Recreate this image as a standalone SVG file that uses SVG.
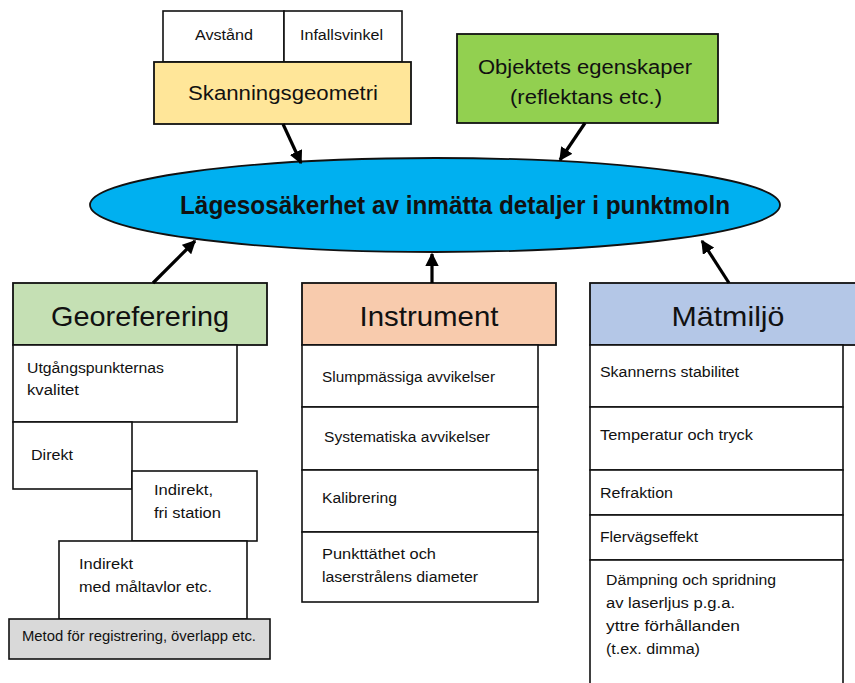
<svg xmlns="http://www.w3.org/2000/svg" width="855" height="683" viewBox="0 0 855 683">
  <defs>
    <marker id="arrow" viewBox="0 0 10 10" refX="9" refY="5" markerWidth="4.2" markerHeight="4.2" orient="auto" markerUnits="strokeWidth">
      <path d="M0,0 L10,5 L0,10 Z" fill="#000"/>
    </marker>
    <style>
      text { font-family: "Liberation Sans", Arial, sans-serif; fill: #111; }
      .box { fill: #fff; stroke: #111; stroke-width: 1.6; }
      .head { stroke: #111; stroke-width: 1.8; }
      .sm { font-size: 14px; }
      .md { font-size: 20px; }
      .lg { font-size: 28px; text-anchor: middle; }
      .title { font-size: 25px; font-weight: bold; text-anchor: middle; }
      .conn { stroke: #000; stroke-width: 3.2; fill: none; marker-end: url(#arrow); }
    </style>
  </defs>
  <rect width="855" height="683" fill="#fff"/>

  <!-- Scanning geometry with its two sub-factors -->
  <g id="avstand">
    <rect class="box" x="163" y="11" width="121" height="51"/>
    <text class="sm" x="195" y="40" textLength="58" lengthAdjust="spacingAndGlyphs">Avstånd</text>
  </g>
  <g id="infallsvinkel">
    <rect class="box" x="284" y="11" width="118" height="51"/>
    <text class="sm" x="300" y="40" textLength="83" lengthAdjust="spacingAndGlyphs">Infallsvinkel</text>
  </g>
  <g id="skanningsgeometri">
    <rect class="head" x="154" y="62" width="257" height="62" fill="#FFE699"/>
    <text class="md" x="188" y="100" textLength="190" lengthAdjust="spacingAndGlyphs">Skanningsgeometri</text>
  </g>

  <!-- Object properties -->
  <g id="objektets-egenskaper">
    <rect class="head" x="457" y="34" width="261" height="89" fill="#92D050"/>
    <text class="md" x="478" y="74" textLength="214" lengthAdjust="spacingAndGlyphs">Objektets egenskaper</text>
    <text class="md" x="510" y="104" textLength="152" lengthAdjust="spacingAndGlyphs">(reflektans etc.)</text>
  </g>

  <!-- Central ellipse -->
  <g id="lagesosakerhet">
    <ellipse cx="435" cy="205" rx="345" ry="47" fill="#00B0F0" stroke="#111" stroke-width="1.8"/>
    <text class="title" x="455" y="214" textLength="550" lengthAdjust="spacingAndGlyphs">Lägesosäkerhet av inmätta detaljer i punktmoln</text>
  </g>

  <!-- Georeferencing column -->
  <g id="georeferering">
    <rect class="head" x="13" y="283" width="254" height="62" fill="#C5E0B4"/>
    <text class="lg" x="140" y="326" textLength="178" lengthAdjust="spacingAndGlyphs">Georeferering</text>
  </g>
  <g id="utgangspunkter">
    <rect class="box" x="13" y="345" width="224" height="77"/>
    <text class="sm" x="27" y="373" textLength="137" lengthAdjust="spacingAndGlyphs">Utgångspunkternas</text>
    <text class="sm" x="27" y="395" textLength="52" lengthAdjust="spacingAndGlyphs">kvalitet</text>
  </g>
  <g id="direkt">
    <rect class="box" x="13" y="422" width="119" height="67"/>
    <text class="sm" x="31" y="460" textLength="42" lengthAdjust="spacingAndGlyphs">Direkt</text>
  </g>
  <g id="indirekt-fri-station">
    <rect class="box" x="132" y="471" width="125" height="70"/>
    <text class="sm" x="154" y="495" textLength="59" lengthAdjust="spacingAndGlyphs">Indirekt,</text>
    <text class="sm" x="154" y="518" textLength="67" lengthAdjust="spacingAndGlyphs">fri station</text>
  </g>
  <g id="indirekt-maltavlor">
    <rect class="box" x="59" y="541" width="188" height="78"/>
    <text class="sm" x="79" y="569" textLength="54" lengthAdjust="spacingAndGlyphs">Indirekt</text>
    <text class="sm" x="79" y="592" textLength="133" lengthAdjust="spacingAndGlyphs">med måltavlor etc.</text>
  </g>
  <g id="metod">
    <rect class="box" x="9" y="619" width="261" height="40" style="fill:#D9D9D9"/>
    <text class="sm" x="22" y="641" textLength="234" lengthAdjust="spacingAndGlyphs">Metod för registrering, överlapp etc.</text>
  </g>

  <!-- Instrument column -->
  <g id="instrument">
    <rect class="head" x="302" y="283" width="254" height="62" fill="#F8CBAD"/>
    <text class="lg" x="429" y="326" textLength="139" lengthAdjust="spacingAndGlyphs">Instrument</text>
  </g>
  <g id="slumpmassiga">
    <rect class="box" x="302" y="345" width="236" height="62"/>
    <text class="sm" x="322" y="382" textLength="173" lengthAdjust="spacingAndGlyphs">Slumpmässiga avvikelser</text>
  </g>
  <g id="systematiska">
    <rect class="box" x="302" y="407" width="236" height="63"/>
    <text class="sm" x="324" y="442" textLength="166" lengthAdjust="spacingAndGlyphs">Systematiska avvikelser</text>
  </g>
  <g id="kalibrering">
    <rect class="box" x="302" y="470" width="236" height="62"/>
    <text class="sm" x="322" y="503" textLength="75" lengthAdjust="spacingAndGlyphs">Kalibrering</text>
  </g>
  <g id="punkttathet">
    <rect class="box" x="302" y="532" width="236" height="70"/>
    <text class="sm" x="322" y="559" textLength="114" lengthAdjust="spacingAndGlyphs">Punkttäthet och</text>
    <text class="sm" x="322" y="582" textLength="156" lengthAdjust="spacingAndGlyphs">laserstrålens diameter</text>
  </g>

  <!-- Measurement environment column -->
  <g id="matmiljo">
    <rect class="head" x="590" y="283" width="280" height="62" fill="#B4C7E7"/>
    <text class="lg" x="728" y="326" textLength="113" lengthAdjust="spacingAndGlyphs">Mätmiljö</text>
  </g>
  <g id="skannerns-stabilitet">
    <rect class="box" x="590" y="345" width="253" height="62"/>
    <text class="sm" x="600" y="377" textLength="139" lengthAdjust="spacingAndGlyphs">Skannerns stabilitet</text>
  </g>
  <g id="temperatur">
    <rect class="box" x="590" y="407" width="253" height="63"/>
    <text class="sm" x="600" y="440" textLength="153" lengthAdjust="spacingAndGlyphs">Temperatur och tryck</text>
  </g>
  <g id="refraktion">
    <rect class="box" x="590" y="470" width="253" height="45"/>
    <text class="sm" x="600" y="498" textLength="73" lengthAdjust="spacingAndGlyphs">Refraktion</text>
  </g>
  <g id="flervagseffekt">
    <rect class="box" x="590" y="515" width="253" height="45"/>
    <text class="sm" x="600" y="542" textLength="98" lengthAdjust="spacingAndGlyphs">Flervägseffekt</text>
  </g>
  <g id="dampning">
    <rect class="box" x="590" y="560" width="253" height="140"/>
    <text class="sm" x="606" y="585" textLength="170" lengthAdjust="spacingAndGlyphs">Dämpning och spridning</text>
    <text class="sm" x="606" y="608" textLength="129" lengthAdjust="spacingAndGlyphs">av laserljus p.g.a.</text>
    <text class="sm" x="606" y="631" textLength="134" lengthAdjust="spacingAndGlyphs">yttre förhållanden</text>
    <text class="sm" x="606" y="654" textLength="94" lengthAdjust="spacingAndGlyphs">(t.ex. dimma)</text>
  </g>

  <!-- Connectors -->
  <g id="connectors">
    <line class="conn" x1="283" y1="124" x2="301" y2="163"/>
    <line class="conn" x1="585" y1="123" x2="560" y2="160"/>
    <line class="conn" x1="153" y1="283" x2="195" y2="241"/>
    <line class="conn" x1="432" y1="283" x2="432" y2="254"/>
    <line class="conn" x1="729" y1="283" x2="702" y2="241"/>
  </g>
</svg>
